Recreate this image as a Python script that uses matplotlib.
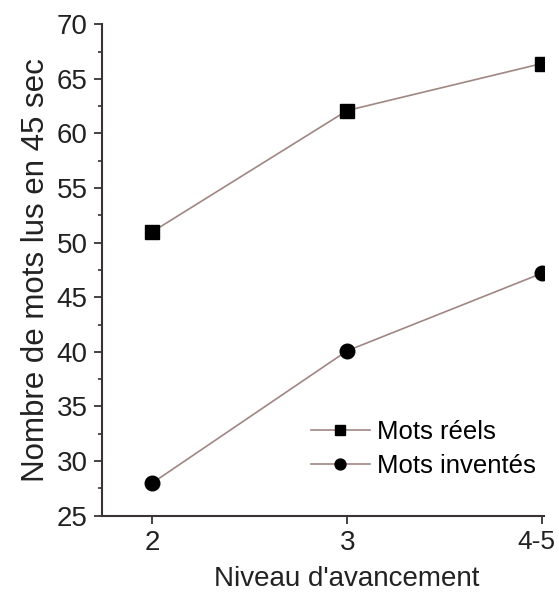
import matplotlib.pyplot as plt
from matplotlib.ticker import MultipleLocator
from matplotlib.transforms import ScaledTranslation

plt.rcParams['font.family'] = ['Liberation Sans', 'DejaVu Sans']

niveaux = ['2', '3', '4-5']
reels = [51.0, 62.1, 66.4]
inventes = [28.0, 40.1, 47.2]

x = list(range(2, 2 + len(niveaux)))

fig = plt.figure(figsize=(5.59, 6.06), dpi=100)
ax = fig.add_axes([0.182, 0.149, 0.791, 0.811])

line_col = '#a08683'
ax.plot(x, reels, color=line_col, lw=1.2, marker='s', ms=9.5,
        mfc='black', mec='black', label='Mots réels')
ax.plot(x, inventes, color=line_col, lw=1.2, marker='o', ms=10.5,
        mfc='black', mec='black', label='Mots inventés')

ax.set_xlim(1.74, 4.01)
ax.set_ylim(25, 70)
ax.set_xticks(x)
ax.set_xticklabels(niveaux)
ax.yaxis.set_major_locator(MultipleLocator(5))
ax.yaxis.set_minor_locator(MultipleLocator(2.5))

for s in ['top', 'right']:
    ax.spines[s].set_visible(False)
for s in ['left', 'bottom']:
    ax.spines[s].set_linewidth(1.5)
    ax.spines[s].set_color('#3a3333')
ax.tick_params(which='major', length=6, width=1.3, labelsize=20, pad=4,
               color='#3a3333', labelcolor='#222222')
ax.tick_params(which='minor', length=3, width=1.2, color='#3a3333')

# le dernier label "4-5" est un peu décalé vers la gauche
last = ax.get_xticklabels()[-1]
last.set_fontsize(19)
last.set_transform(last.get_transform() + ScaledTranslation(-6/100, 0, fig.dpi_scale_trans))

ax.set_xlabel("Niveau d'avancement", fontsize=20, color='#222222')
ax.xaxis.set_label_coords(0.554, -0.103)
ax.set_ylabel('Nombre de mots lus en 45 sec', fontsize=22.5, labelpad=4,
              color='#222222')

ax.legend(loc='lower right', bbox_to_anchor=(1.035, 0.03), frameon=False,
          fontsize=18.5, handlelength=2.3, handletextpad=0.3, labelspacing=0.4,
          markerscale=0.75)

fig.savefig('out.png', dpi=100)
